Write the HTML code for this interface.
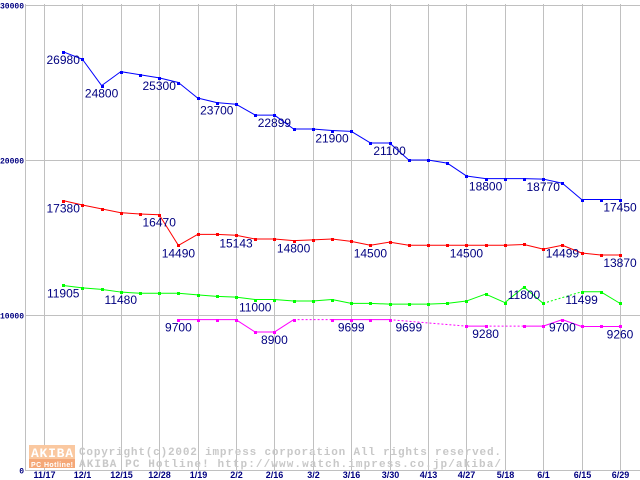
<!DOCTYPE html>
<html><head><meta charset="utf-8"><style>
body{margin:0;background:#fff}
svg{display:block}
.yt{font:bold 8px "Liberation Mono",monospace;fill:#000080}
.xt{font:bold 9px "Liberation Sans",sans-serif;fill:#000080}
.lb{font:12px "Liberation Sans",sans-serif;fill:#000080}
.cp{font:bold 11px "Liberation Mono",monospace;fill:#c8c8c8}
</style></head><body>
<svg id="chart" width="640" height="480" viewBox="0 0 640 480" xmlns="http://www.w3.org/2000/svg"></svg>
<script>
const xLabels=["11/17","12/1","12/15","12/28","1/19","2/2","2/16","3/2","3/16","3/30","4/13","4/27","5/18","6/1","6/15","6/29"];
const yTicks=[0,10000,20000,30000];
const N=null;
const blue=[N,26980,26500,24800,25700,25500,25300,25000,24000,23700,23600,22899,22899,22000,22000,21900,21850,21100,21100,20000,20000,19800,18970,18800,18800,18800,18770,18500,17450,17450,17450];
const red=[N,17380,17100,16850,16600,16520,16470,14490,15200,15200,15143,14900,14900,14800,14850,14900,14750,14500,14700,14500,14500,14500,14500,14500,14500,14550,14250,14499,14000,13870,13870];
const green=[N,11905,11750,11650,11480,11400,11400,11400,11300,11200,11150,11000,11000,10900,10900,11000,10750,10750,10700,10700,10700,10750,10900,11350,10800,11800,10750,N,11499,11499,10750];
const magenta=[N,N,N,N,N,N,N,9700,9700,9700,9700,8900,8900,9700,N,9699,9699,9699,9699,N,N,N,9280,9280,N,9280,9280,9700,9260,9260,9260];
const blueLabels=[[1,"26980"],[3,"24800"],[6,"25300"],[9,"23700"],[12,"22899"],[15,"21900"],[18,"21100"],[23,"18800"],[26,"18770"],[30,"17450"]];
const redLabels=[[1,"17380"],[6,"16470"],[7,"14490"],[10,"15143"],[13,"14800"],[17,"14500"],[22,"14500"],[27,"14499"],[30,"13870"]];
const greenLabels=[[1,"11905"],[4,"11480"],[11,"11000"],[25,"11800"],[28,"11499"]];
const magentaLabels=[[7,"9700"],[12,"8900"],[16,"9699"],[19,"9699"],[23,"9280"],[27,"9700"],[30,"9260"]];

const svg=document.getElementById('chart');
const NS='http://www.w3.org/2000/svg';
const X0=44,STEP=19.2,Y0=470,PPU=155/10000;
const xs=i=>X0+i*STEP;
const ys=v=>Y0-v*PPU;
function mk(tag,attrs,parent){const e=document.createElementNS(NS,tag);for(const k in attrs)e.setAttribute(k,attrs[k]);(parent||svg).appendChild(e);return e;}

const grid=mk('g',{});


xLabels.forEach((t,k)=>{
  const x=Math.round(xs(k*2))+0.5;
  const l=mk('line',{x1:x,x2:x,y1:4,y2:Y0,stroke:'#c0c0c0'},grid);
  
  
  const tx=mk('text',{x:x,y:478,'text-anchor':'middle',class:'xt'});
  tx.textContent=t;
  
  
});
yTicks.forEach(v=>{
  const y=Math.round(ys(v))+0.5;
  const l=mk('line',{x1:25,x2:640,y1:y,y2:y,stroke:'#c0c0c0'},grid);
  
  
  const tx=mk('text',{x:24,y:Math.max(y+3,7),'text-anchor':'end',class:'yt'});
  tx.textContent=String(v);
  
  
});
const ax=mk('line',{x1:25.5,x2:25.5,y1:4,y2:Y0+1,stroke:'#c0c0c0'},grid);



// watermark
const wm=mk('g',{});


mk('rect',{x:29,y:445,width:46,height:14,fill:'#fac8a0'},wm);
mk('rect',{x:29,y:459,width:46,height:9,fill:'#f5a878'},wm);
const a1=mk('text',{x:31,y:457,class:'cp',fill:'#fff',style:'fill:#fff;font-size:13px',textLength:42});a1.textContent='AKIBA';
const a2=mk('text',{x:31,y:467,style:'fill:#fff;font:bold 7px Liberation Sans,sans-serif',textLength:42});a2.textContent='PC Hotline!';
const c1=mk('text',{x:79,y:455,class:'cp',textLength:422},wm);c1.textContent='Copyright(c)2002 impress corporation All rights reserved.';
const c2=mk('text',{x:79,y:467,class:'cp',textLength:422},wm);c2.textContent='AKIBA PC Hotline!  http://www.watch.impress.co.jp/akiba/';
wm.appendChild(a1);wm.appendChild(a2);

function drawSeries(name,data,color,labels){
  const g=mk('g',{});
  
  
  let prev=-1;
  data.forEach((v,i)=>{
    if(v===null)return;
    if(prev>=0){
      const l=mk('line',{x1:xs(prev),y1:ys(data[prev]),x2:xs(i),y2:ys(v),stroke:color,'stroke-width':1},g);
      if(i-prev>1)l.setAttribute('stroke-dasharray','2,2');
      
      
    }
    prev=i;
  });
  data.forEach((v,i)=>{
    if(v===null)return;
    const r=mk('rect',{x:Math.round(xs(i))-1,y:Math.round(ys(v))-1,width:3,height:3,fill:color},g);
    
    
  });
  labels.forEach(([i,t])=>{
    const tx=mk('text',{x:xs(i),y:ys(parseFloat(t))+12,'text-anchor':'middle',class:'lb'},g);
    tx.textContent=t;
    
    
  });
}
drawSeries('blue',blue,'#0000ff',blueLabels);
drawSeries('red',red,'#ff0000',redLabels);
drawSeries('green',green,'#00ff00',greenLabels);
drawSeries('magenta',magenta,'#ff00ff',magentaLabels);
</script>
</body></html>
